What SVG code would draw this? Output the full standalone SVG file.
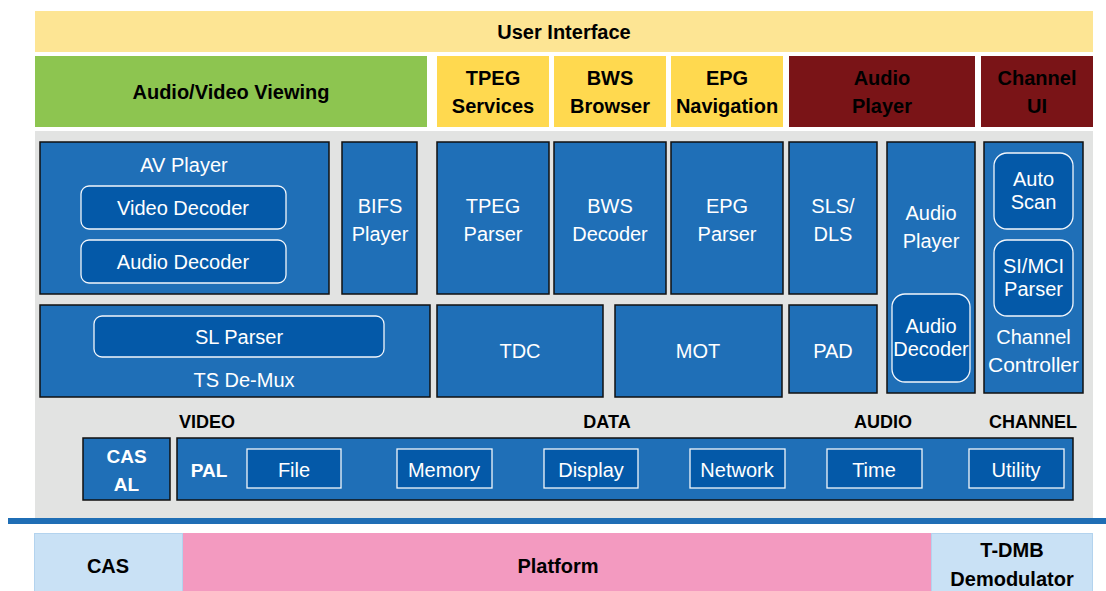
<svg xmlns="http://www.w3.org/2000/svg" width="1106" height="591" viewBox="0 0 1106 591">
<style>
text{font-family:"Liberation Sans",Arial,sans-serif;text-anchor:middle}
.bk{font-weight:bold;font-size:20px;fill:#000}
.lb{font-weight:bold;font-size:18px;fill:#000}
.wt{font-size:20px;fill:#fff}
.wb{font-weight:bold;font-size:19px;fill:#fff}
.blue{fill:#1F6FB7;stroke:#111;stroke-width:1.5}
.inner{fill:#0459A8;stroke:#F2F6FB;stroke-width:1.3}
.ui{fill:#FDE594}
.yel{fill:#FFD94F}
.red{fill:#7A1417}
.lbl{fill:#C9E1F5;stroke:#B3D3EE;stroke-width:1}
</style>
<rect x="0" y="0" width="1106" height="591" fill="#fff"/>
<g id="user-interface"><rect class="ui" x="35" y="11" width="1058" height="41"/><text class="bk" x="564" y="39">User Interface</text></g>
<g id="av-viewing"><rect x="35" y="56" width="392" height="71" fill="#8DC550"/><text class="bk" x="231" y="99">Audio/Video Viewing</text></g>
<g id="tpeg-services"><rect class="yel" x="437" y="56" width="112" height="71"/><text class="bk" x="493" y="85">TPEG</text><text class="bk" x="493" y="113">Services</text></g>
<g id="bws-browser"><rect class="yel" x="554" y="56" width="112" height="71"/><text class="bk" x="610" y="85">BWS</text><text class="bk" x="610" y="113">Browser</text></g>
<g id="epg-navigation"><rect class="yel" x="671" y="56" width="112" height="71"/><text class="bk" x="727" y="85">EPG</text><text class="bk" x="727" y="113">Navigation</text></g>
<g id="audio-player-ui"><rect class="red" x="789" y="56" width="186" height="71"/><text class="bk" x="882" y="85">Audio</text><text class="bk" x="882" y="113">Player</text></g>
<g id="channel-ui"><rect class="red" x="981" y="56" width="112" height="71"/><text class="bk" x="1037" y="85">Channel</text><text class="bk" x="1037" y="113">UI</text></g>
<rect id="middleware-bg" x="35" y="131" width="1058" height="387" fill="#E2E3E2"/>
<g id="av-player"><rect class="blue" x="40" y="142" width="289" height="152"/><text class="wt" x="184" y="172">AV Player</text>
<g id="video-decoder"><rect class="inner" x="81" y="186" width="205" height="43" rx="8"/><text class="wt" x="183" y="215">Video Decoder</text></g>
<g id="audio-decoder-av"><rect class="inner" x="81" y="240" width="205" height="43" rx="8"/><text class="wt" x="183" y="269">Audio Decoder</text></g></g>
<g id="bifs-player"><rect class="blue" x="342" y="142" width="75" height="152"/><text class="wt" x="380" y="213">BIFS</text><text class="wt" x="380" y="241">Player</text></g>
<g id="tpeg-parser"><rect class="blue" x="437" y="142" width="112" height="152"/><text class="wt" x="493" y="213">TPEG</text><text class="wt" x="493" y="241">Parser</text></g>
<g id="bws-decoder"><rect class="blue" x="554" y="142" width="112" height="152"/><text class="wt" x="610" y="213">BWS</text><text class="wt" x="610" y="241">Decoder</text></g>
<g id="epg-parser"><rect class="blue" x="671" y="142" width="112" height="152"/><text class="wt" x="727" y="213">EPG</text><text class="wt" x="727" y="241">Parser</text></g>
<g id="sls-dls"><rect class="blue" x="789" y="142" width="88" height="152"/><text class="wt" x="833" y="213">SLS/</text><text class="wt" x="833" y="241">DLS</text></g>
<g id="audio-player"><rect class="blue" x="887" y="142" width="88" height="251"/><text class="wt" x="931" y="220">Audio</text><text class="wt" x="931" y="248">Player</text>
<g id="audio-decoder"><rect class="inner" x="892" y="294" width="78" height="88" rx="13"/><text class="wt" x="931" y="333">Audio</text><text class="wt" x="931" y="356">Decoder</text></g></g>
<g id="channel-controller"><rect class="blue" x="984" y="142" width="99" height="251"/>
<g id="auto-scan"><rect class="inner" x="994" y="153" width="79" height="76" rx="13"/><text class="wt" x="1033.5" y="186">Auto</text><text class="wt" x="1033.5" y="209">Scan</text></g>
<g id="si-mci-parser"><rect class="inner" x="994" y="240" width="79" height="76" rx="13"/><text class="wt" x="1033.5" y="273">SI/MCI</text><text class="wt" x="1033.5" y="296">Parser</text></g>
<text class="wt" x="1033.5" y="344">Channel</text><text class="wt" x="1033.5" y="372" style="font-size:21px">Controller</text></g>
<g id="ts-demux"><rect class="blue" x="40" y="305" width="390" height="92"/>
<g id="sl-parser"><rect class="inner" x="94" y="316" width="290" height="41" rx="8"/><text class="wt" x="239" y="344">SL Parser</text></g>
<text class="wt" x="244" y="387">TS De-Mux</text></g>
<g id="tdc"><rect class="blue" x="437" y="305" width="166" height="92"/><text class="wt" x="520" y="358">TDC</text></g>
<g id="mot"><rect class="blue" x="615" y="305" width="167" height="92"/><text class="wt" x="698" y="358">MOT</text></g>
<g id="pad"><rect class="blue" x="789" y="305" width="88" height="88"/><text class="wt" x="833" y="358">PAD</text></g>
<g id="labels"><text class="lb" x="207" y="428">VIDEO</text><text class="lb" x="607" y="428">DATA</text><text class="lb" x="883" y="428">AUDIO</text><text class="lb" x="1033" y="428">CHANNEL</text></g>
<g id="cas-al"><rect class="blue" x="83" y="438" width="87" height="62"/><text class="wb" x="126.5" y="463">CAS</text><text class="wb" x="126.5" y="491">AL</text></g>
<g id="pal"><rect class="blue" x="177" y="438" width="896" height="62"/><text class="wb" x="209" y="477">PAL</text>
<g id="pal-file"><rect class="inner" x="247" y="449" width="94" height="39"/><text class="wt" x="294" y="477">File</text></g>
<g id="pal-memory"><rect class="inner" x="397" y="449" width="95" height="39"/><text class="wt" x="444" y="477">Memory</text></g>
<g id="pal-display"><rect class="inner" x="544" y="449" width="94" height="39"/><text class="wt" x="591" y="477">Display</text></g>
<g id="pal-network"><rect class="inner" x="690" y="449" width="95" height="39"/><text class="wt" x="737" y="477">Network</text></g>
<g id="pal-time"><rect class="inner" x="827" y="449" width="95" height="39"/><text class="wt" x="874" y="477">Time</text></g>
<g id="pal-utility"><rect class="inner" x="969" y="449" width="95" height="39"/><text class="wt" x="1016" y="477">Utility</text></g></g>
<rect id="separator" x="8" y="518" width="1098" height="6" fill="#1F6EB5"/>
<g id="cas"><rect class="lbl" x="34.5" y="533.5" width="148" height="58"/><text class="bk" x="108" y="573">CAS</text></g>
<g id="platform"><rect x="183" y="533" width="748" height="58" fill="#F39AC0"/><text class="bk" x="558" y="573">Platform</text></g>
<g id="tdmb"><rect class="lbl" x="931.5" y="533.5" width="161" height="58"/><text class="bk" x="1012" y="557">T-DMB</text><text class="bk" x="1012" y="586">Demodulator</text></g>
</svg>
